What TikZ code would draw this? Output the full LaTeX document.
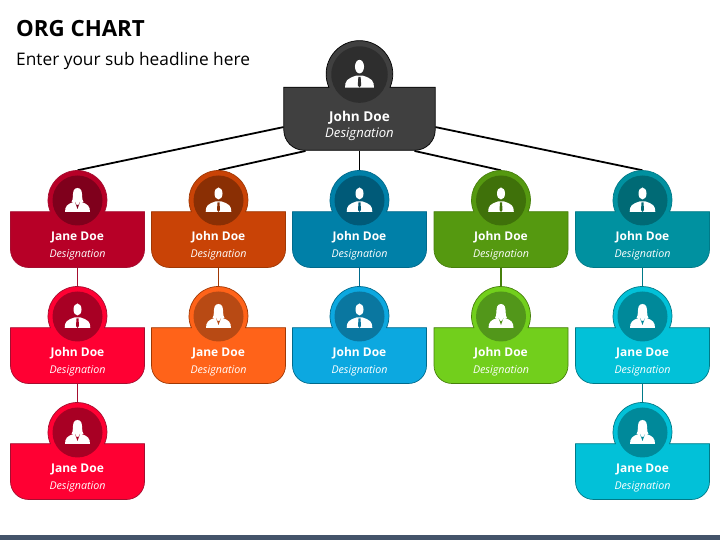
\documentclass[tikz,border=0pt]{standalone}
\usepackage{fontspec}
\setmainfont{Open Sans}
\usetikzlibrary{positioning, calc, backgrounds}

\definecolor{rootfill}{HTML}{404040}
\definecolor{rootdark}{HTML}{2E2E2E}
\definecolor{redfill}{HTML}{B70027}
\definecolor{reddark}{HTML}{7F001C}
\definecolor{redline}{HTML}{A50E30}
\definecolor{redlight}{HTML}{FF0033}
\definecolor{redlightdark}{HTML}{A80024}
\definecolor{orgfill}{HTML}{C94306}
\definecolor{orgdark}{HTML}{8A2F04}
\definecolor{orgline}{HTML}{A03804}
\definecolor{orglight}{HTML}{FF6319}
\definecolor{orglightdark}{HTML}{B84A14}
\definecolor{bluefill}{HTML}{0080A8}
\definecolor{bluedark}{HTML}{005A78}
\definecolor{blueline}{HTML}{006A8C}
\definecolor{bluelight}{HTML}{0CA8E0}
\definecolor{bluelightdark}{HTML}{0A77A0}
\definecolor{grnfill}{HTML}{559910}
\definecolor{grndark}{HTML}{3F710A}
\definecolor{grnline}{HTML}{47800C}
\definecolor{grnlight}{HTML}{72CF1C}
\definecolor{grnlightdark}{HTML}{52971A}
\definecolor{tealfill}{HTML}{0091A0}
\definecolor{tealdark}{HTML}{006A75}
\definecolor{tealline}{HTML}{007A88}
\definecolor{teallight}{HTML}{02C1D8}
\definecolor{teallightdark}{HTML}{00899A}
\definecolor{barcolor}{HTML}{44546A}

\newcommand{\cardlead}{17}
\newcommand{\carddesig}{10.7}

\tikzset{
    cardtext/.style={text=white, align=center, font=\fontsize{12}{\cardlead}\selectfont},
    cardbody/.style={minimum width=134pt, minimum height=56pt, inner sep=0pt},
    cardring/.style={circle, minimum size=59pt, inner sep=0pt},
    cardface/.style={circle, minimum size=50pt, inner sep=0pt},
    treeline/.style={line width=1.8pt},
    man/.pic={
        \fill[white] (0,6.5) ellipse[x radius=4, y radius=6];
        \fill[white] (-12.8,-12) .. controls (-12.8,-6) and (-11,-4) .. (-3,-1.5) -- (3,-1.5)
            .. controls (11,-4) and (12.8,-6) .. (12.8,-12) -- cycle;
        \fill[cardinner] (-1,-2.5) -- (1,-2.5) -- (1.5,-10) -- (0,-12) -- (-1.5,-10) -- cycle;
    },
    woman/.pic={
        \fill[white] (0,12) .. controls (4,12) and (4.6,8) .. (4.6,4) .. controls (4.6,1) and (5,0) .. (6,-2)
            -- (-6,-2) .. controls (-5,0) and (-4.6,1) .. (-4.6,4) .. controls (-4.6,8) and (-4,12) .. (0,12) -- cycle;
        \fill[white] (-12.5,-12) .. controls (-12.5,-6) and (-10,-4) .. (-4,-2) -- (4,-2)
            .. controls (10,-4) and (12.5,-6) .. (12.5,-12) -- cycle;
        \fill[cardinner] (-2.5,-2) -- (0,-9) -- (2.5,-2) -- (1,-5) -- (-1,-5) -- cycle;
    }
}

% scale, name, x, y, fill, inner, line, person, icon
\newcommand{\orgcard}[9][1]{
    \begin{scope}[shift={(#3,#4)}, scale=#1, transform shape]
        \colorlet{cardinner}{#6}
        \path[fill=#5] (-67,-11.7) -- (-27.1,-11.7)
            arc[start angle=203.4, end angle=-23.4, radius=29.5] -- (67,-11.7)
            -- (67,-49.5) arc[start angle=0, end angle=-90, radius=18]
            -- (-49,-67.5) arc[start angle=270, end angle=180, radius=18] -- cycle;
        \draw[#7, line width=0.7pt] (-67,-11.7) -- (-27.1,-11.7)
            arc[start angle=203.4, end angle=-23.4, radius=29.5] -- (67,-11.7)
            -- (67,-49.5) arc[start angle=0, end angle=-90, radius=18]
            -- (-49,-67.5) arc[start angle=270, end angle=180, radius=18] -- cycle;
        \node[cardring] (#2c) at (0,0) {};
        \node[cardface, fill=#6] (#2f) at (0,-0.5) {};
        \node[cardbody, anchor=north] (#2) at (0,-11.7) {};
        \node[cardtext] (#2t) at (0,-46) {\textbf{\vphantom{Jh}#8}\\\textit{\fontsize{\carddesig}{\cardlead}\selectfont Designation}};
        \pic at (0,0) {#9};
    \end{scope}
}

\begin{document}
\begin{tikzpicture}[x=1pt, y=1pt]
    \useasboundingbox (0,0) rectangle (720,540);

    % title
    \node[anchor=west, inner sep=0pt, font=\fontsize{22.3}{26}\selectfont\bfseries] (title) at (16,511) {ORG CHART};
    \node[anchor=west, inner sep=0pt, font=\fontsize{17.3}{20}\selectfont] (subtitle) at (16,479) {Enter your sub headline here};

    % top card
    {\renewcommand{\cardlead}{14.5}\renewcommand{\carddesig}{11.6}
    \orgcard[1.13]{root}{359.5}{466}{rootfill}{rootdark}{black}{John Doe}{man}}

    % column 1
    \orgcard{a}{77.5}{340}{redfill}{reddark}{redline}{Jane Doe}{woman}
    \orgcard{aa}{77.5}{224}{redlight}{redlightdark}{redline}{John Doe}{man}
    \orgcard{aaa}{77.5}{108}{redlight}{redlightdark}{redline}{Jane Doe}{woman}

    % column 2
    \orgcard{b}{218.5}{340}{orgfill}{orgdark}{orgline}{John Doe}{man}
    \orgcard{bb}{218.5}{224}{orglight}{orglightdark}{orgline}{Jane Doe}{woman}

    % column 3
    \orgcard{c}{359.5}{340}{bluefill}{bluedark}{blueline}{John Doe}{man}
    \orgcard{cc}{359.5}{224}{bluelight}{bluelightdark}{blueline}{John Doe}{man}

    % column 4
    \orgcard{d}{501}{340}{grnfill}{grndark}{grnline}{John Doe}{man}
    \orgcard{dd}{501}{224}{grnlight}{grnlightdark}{grnline}{John Doe}{woman}

    % column 5
    \orgcard{e}{642.5}{340}{tealfill}{tealdark}{tealline}{John Doe}{man}
    \orgcard{ee}{642.5}{224}{teallight}{teallightdark}{tealline}{Jane Doe}{woman}
    \orgcard{eee}{642.5}{108}{teallight}{teallightdark}{tealline}{Jane Doe}{woman}

    % connectors
    \begin{scope}[on background layer]
        \draw[treeline, black] ($(root.west)+(0,-8)$) -- (ac.north);
        \draw[treeline, black] ($(root.south)+(-54,0)$) -- (bc.north);
        \draw[treeline, black] (root.south) -- (cc.north);
        \draw[treeline, black] ($(root.south)+(55,0)$) -- (dc.north);
        \draw[treeline, black] ($(root.east)+(0,-8)$) -- (ec.north);
        \draw[treeline, redline] (a.south) -- (aac.north);
        \draw[treeline, redline] (aa.south) -- (aaac.north);
        \draw[treeline, orgline] (b.south) -- (bbc.north);
        \draw[treeline, blueline] (c.south) -- (ccc.north);
        \draw[treeline, grnline] (d.south) -- (ddc.north);
        \draw[treeline, tealline] (e.south) -- (eec.north);
        \draw[treeline, tealline] (ee.south) -- (eeec.north);
    \end{scope}

    % bottom strip
    \fill[barcolor] (0,0) rectangle (720,5);
\end{tikzpicture}
\end{document}
